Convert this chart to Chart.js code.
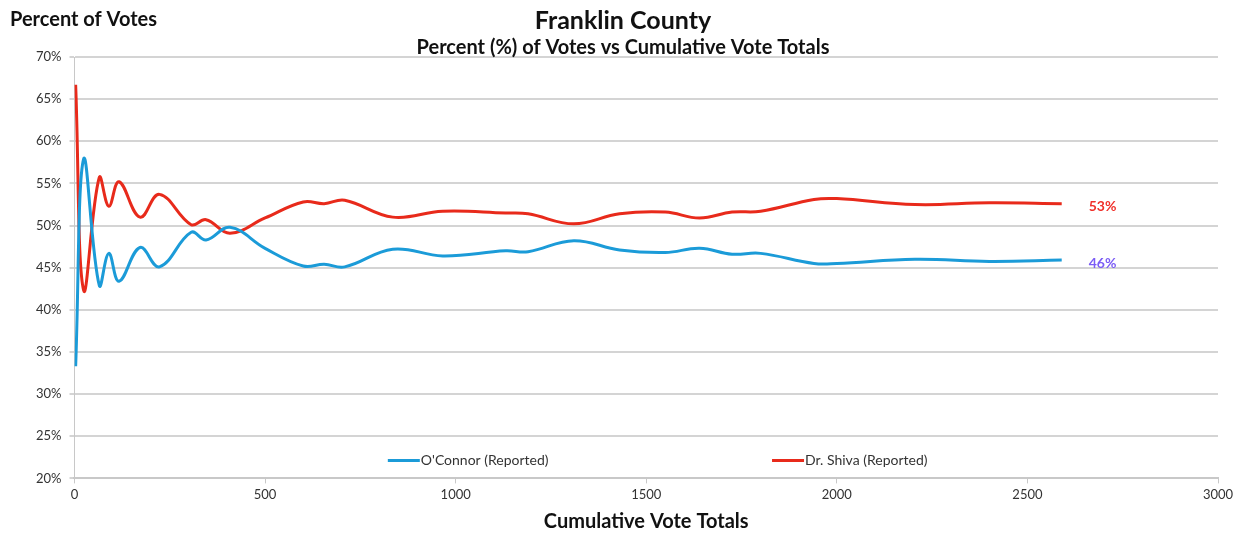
<!DOCTYPE html>
<html>
<head>
<meta charset="utf-8">
<script src="https://cdn.jsdelivr.net/npm/chart.js@4.4.1/dist/chart.umd.min.js"></script>
<style>
  body { margin: 0; background: #fff; }
  #wrap { width: 1245px; height: 533px; }
</style>
</head>
<body>
<div id="wrap"><canvas id="myChart"></canvas></div>
<script>
/* Franklin County - percent of votes vs cumulative totals */
var votes    = [3, 24, 65, 90, 117, 172, 223, 306, 345, 408, 500, 600, 655, 709, 835, 966, 1131, 1190, 1310, 1430, 1550, 1640, 1725, 1800, 1940, 2000, 2205, 2400, 2590];
var oconnor  = [33.3, 57.9, 42.9, 46.7, 43.4, 47.4, 45.1, 49.2, 48.3, 49.8, 47.3, 45.2, 45.4, 45.1, 47.2, 46.4, 47.0, 46.9, 48.2, 47.1, 46.8, 47.3, 46.6, 46.7, 45.5, 45.5, 46.0, 45.75, 45.9];
var shiva    = [66.7, 42.3, 55.7, 52.3, 55.2, 51.0, 53.7, 50.1, 50.7, 49.1, 50.9, 52.8, 52.6, 53.0, 51.0, 51.7, 51.5, 51.4, 50.2, 51.4, 51.6, 50.9, 51.6, 51.7, 53.1, 53.2, 52.5, 52.7, 52.6];
var seriesNames = ["O'Connor (Reported)", "Dr. Shiva (Reported)"];
var endLabelColors = ['#7b5cf5', '#f0302a'];

function pts(arr) {
  return votes.map(function (v, i) { return { x: v, y: arr[i] }; });
}

var fontFam = 'Lato, "Open Sans", sans-serif';

var extras = {
  id: 'extras',
  afterDraw: function (chart) {
    var ctx = chart.ctx, area = chart.chartArea;
    var xs = chart.scales.x, ys = chart.scales.y;
    ctx.save();
    // horizontal y axis title
    ctx.font = 'bold 20px ' + fontFam;
    ctx.fillStyle = '#111';
    ctx.textAlign = 'left';
    ctx.textBaseline = 'middle';
    ctx.fillText('Percent of Votes', 10, 20);

    // end value labels
    ctx.font = 'bold 14px ' + fontFam;
    chart.data.datasets.forEach(function (ds, i) {
      var last = ds.data[ds.data.length - 1];
      var px = xs.getPixelForValue(last.x) + 27;
      var py = ys.getPixelForValue(last.y) + 3;
      ctx.fillStyle = endLabelColors[i];
      ctx.fillText(Math.round(last.y) + '%', px, py);
    });

    // legend inside the plot
    var ly = area.bottom - 18;
    var spots = [0.274, 0.61];
    ctx.font = '14px ' + fontFam;
    chart.data.datasets.forEach(function (ds, i) {
      var lx = area.left + spots[i] * (area.right - area.left);
      ctx.strokeStyle = ds.borderColor;
      ctx.lineWidth = 3;
      ctx.beginPath();
      ctx.moveTo(lx, ly);
      ctx.lineTo(lx + 32, ly);
      ctx.stroke();
      ctx.fillStyle = '#333';
      ctx.fillText(ds.label, lx + 33, ly);
    });
    ctx.restore();
  }
};

var ctx1 = document.getElementById('myChart').getContext('2d');
window.myLine = new Chart(ctx1, {
  type: 'scatter',
  data: {
    datasets: [
      {
        label: seriesNames[0],
        data: pts(oconnor),
        showLine: true,
        borderColor: '#1b9bd8',
        backgroundColor: '#1b9bd8',
        borderWidth: 3,
        pointRadius: 0,
        tension: 0.4
      },
      {
        label: seriesNames[1],
        data: pts(shiva),
        showLine: true,
        borderColor: '#e82a1b',
        backgroundColor: '#e82a1b',
        borderWidth: 3,
        pointRadius: 0,
        tension: 0.4
      }
    ]
  },
  options: {
    animation: false,
    responsive: true,
    maintainAspectRatio: false,
    layout: { padding: { left: 28, right: 27, top: 0, bottom: 1 } },
    plugins: {
      legend: { display: false },
      tooltip: { enabled: false },
      title: {
        display: true,
        text: 'Franklin County',
        color: '#111',
        font: { family: fontFam, size: 25, weight: 'bold', lineHeight: 1 },
        padding: { top: 8, bottom: 0 }
      },
      subtitle: {
        display: true,
        text: 'Percent (%) of Votes vs Cumulative Vote Totals',
        color: '#111',
        font: { family: fontFam, size: 20, weight: 'bold', lineHeight: 0.9 },
        padding: { top: 6, bottom: 0 }
      }
    },
    scales: {
      x: {
        type: 'linear',
        min: 0,
        max: 3000,
        ticks: {
          stepSize: 500,
          color: '#333',
          font: { family: fontFam, size: 13 },
          padding: 4,
          callback: function (v) { return String(v); }
        },
        grid: { drawOnChartArea: false, color: '#c8c8c8', tickLength: 5, lineWidth: 1 },
        border: { color: '#c8c8c8', width: 2 },
        title: {
          display: true,
          text: 'Cumulative Vote Totals',
          color: '#111',
          font: { family: fontFam, size: 20, weight: 'bold', lineHeight: 1 },
          padding: { top: 5, bottom: 0 }
        }
      },
      y: {
        min: 20,
        max: 70,
        ticks: {
          stepSize: 5,
          color: '#333',
          font: { family: fontFam, size: 13 },
          padding: 8,
          callback: function (v) { return v + '%'; }
        },
        grid: { color: '#d4d4d4', lineWidth: 2, tickLength: 5 },
        border: { color: '#c8c8c8', width: 1 }
      }
    }
  },
  plugins: [extras]
});
</script>
</body>
</html>
